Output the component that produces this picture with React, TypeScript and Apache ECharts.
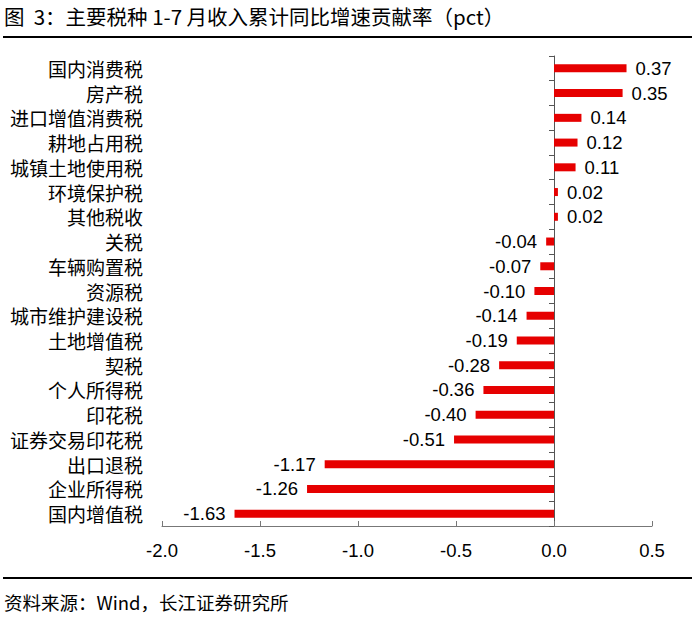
import React, { useEffect, useRef } from "react";
import * as echarts from "echarts";

const categories = [
  "国内消费税", "房产税", "进口增值消费税", "耕地占用税", "城镇土地使用税",
  "环境保护税", "其他税收", "关税", "车辆购置税", "资源税", "城市维护建设税",
  "土地增值税", "契税", "个人所得税", "印花税", "证券交易印花税", "出口退税",
  "企业所得税", "国内增值税",
];
const values = [
  0.37, 0.35, 0.14, 0.12, 0.11, 0.02, 0.02, -0.04, -0.07, -0.10, -0.14,
  -0.19, -0.28, -0.36, -0.40, -0.51, -1.17, -1.26, -1.63,
];
const xMin = -2.0;
const xMax = 0.5;
const xInterval = 0.5;
const titleText = "图\u00a0\u00a03：主要税种 1-7 月收入累计同比增速贡献率（pct）";
const sourceText = "资料来源：Wind，长江证券研究所";

const FONT = "'Noto Sans CJK SC', 'Noto Sans', sans-serif";
const NUM_FONT = "'Liberation Sans', Arial, sans-serif";

export default function App() {
  const ref = useRef<HTMLDivElement>(null);
  useEffect(() => {
    document.body.style.margin = "0";
    const chart = echarts.init(ref.current!, null, { renderer: "svg" });
    chart.setOption({
      animation: false,
      backgroundColor: "#ffffff",
      textStyle: { fontFamily: FONT },
      grid: { left: 162, right: 48, top: 56, bottom: 96, containLabel: false },
      graphic: [
        {
          type: "text", left: 4, top: 5,
          style: { text: titleText, fontSize: 20.5, lineHeight: 22, fill: "#000", fontFamily: FONT },
        },
        {
          type: "line", shape: { x1: 3, y1: 37, x2: 692, y2: 37 },
          style: { stroke: "#000", lineWidth: 2 },
        },
        {
          type: "line", shape: { x1: 3, y1: 578, x2: 692, y2: 578 },
          style: { stroke: "#000", lineWidth: 2 },
        },
        {
          type: "text", left: 4, top: 592,
          style: { text: sourceText, fontSize: 18.5, lineHeight: 20, fill: "#000", fontFamily: FONT },
        },
      ],
      xAxis: {
        type: "value",
        min: xMin, max: xMax, interval: xInterval,
        splitLine: { show: false },
        axisLine: { show: true, onZero: false, lineStyle: { color: "#777", width: 1 } },
        axisTick: { show: true, inside: true, length: 5, lineStyle: { color: "#777" } },
        axisLabel: {
          margin: 14, fontSize: 18.5, lineHeight: 20, color: "#000", fontFamily: NUM_FONT,
          formatter: (v: number) => v.toFixed(1),
        },
      },
      yAxis: [
        {
          type: "category", data: categories, inverse: true,
          axisLine: { show: false, onZero: false },
          axisTick: { show: false },
          axisLabel: { margin: 19, fontSize: 19, lineHeight: 20, color: "#000", fontFamily: FONT },
        },
        {
          type: "category", data: categories, inverse: true, position: "left",
          axisLine: { show: true, onZero: true, lineStyle: { color: "#555", width: 1 } },
          axisTick: { show: true, length: 5, lineStyle: { color: "#555" } },
          axisLabel: { show: false },
        },
      ],
      series: [
        {
          type: "bar", barWidth: 8, yAxisIndex: 0,
          data: values.map((v) => ({
            value: v,
            label: { position: v < 0 ? "left" : "right" },
          })),
          itemStyle: { color: "#E60000" },
          label: {
            show: true, fontSize: 18.5, lineHeight: 20, color: "#000", fontFamily: NUM_FONT, distance: 9,
            formatter: (p: any) => Number(p.value).toFixed(2),
          },
        },
      ],
    });
    return () => chart.dispose();
  }, []);
  return <div ref={ref} style={{ position: "absolute", left: 0, top: 0, width: 700, height: 622 }} />;
}
